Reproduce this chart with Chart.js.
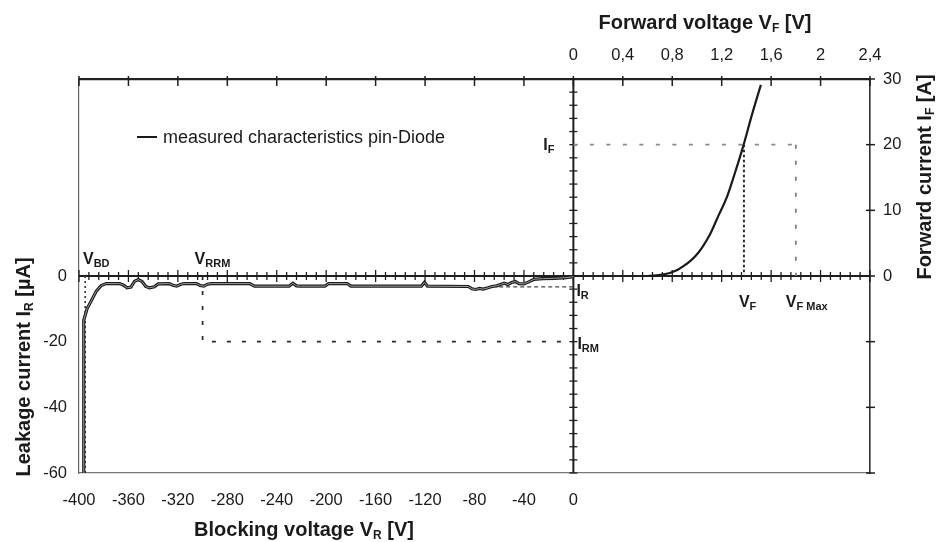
<!DOCTYPE html>
<html>
<head>
<meta charset="utf-8">
<script src="https://cdn.jsdelivr.net/npm/chart.js@4.4.1/dist/chart.umd.min.js"></script>
<style>
html,body{margin:0;padding:0;background:#fff;overflow:hidden}
#wrap{position:relative;width:937px;height:542px}
</style>
</head>
<body>
<div id="wrap"><canvas id="c"></canvas></div>
<script>
// ---------- data ----------
// Reverse (blocking) characteristic: blocking voltage [V] vs leakage current [µA]
const reverseVoltage = [-396.5,-396.3,-396.0,-393.5,-390,-386,-382,-378,-367,-364,-361,-358,-355,-352,-349,-346,-343,-339,-336,-327,-324,-321,-318,-315,-305,-302,-299,-296,-293,-262,-258,-230,-227,-224,-221,-201,-198,-183,-180,-123,-120.5,-118,-85,-82,-79,-76,-73,-69,-66,-62,-59,-56,-53,-50,-47,-44,-40,-36,-32,-25,-15,-6,0];
const reverseCurrent = [-60,-30,-13.5,-10,-7.5,-4.6,-2.9,-2.3,-2.3,-2.8,-3.6,-3.4,-1.6,-1.1,-1.7,-3.2,-3.6,-3.3,-2.4,-2.3,-2.8,-3.1,-2.6,-2.3,-2.3,-2.9,-3.1,-2.5,-2.3,-2.3,-3.1,-3.1,-2.2,-3.0,-3.1,-3.1,-2.3,-2.3,-3.1,-3.1,-1.9,-3.1,-3.2,-3.9,-4.1,-3.8,-4.0,-3.6,-3.2,-3.0,-2.6,-2.2,-2.6,-2.0,-1.7,-2.3,-2.4,-1.8,-1.0,-0.8,-0.7,-0.5,-0.2];
// Forward characteristic: forward voltage [V] vs forward current [A]
const forwardVoltage = [0.60,0.65,0.72,0.78,0.84,0.89,0.94,0.99,1.04,1.107,1.174,1.242,1.309,1.376,1.444,1.517];
const forwardCurrent = [0,0.05,0.2,0.45,0.9,1.5,2.2,3.1,4.3,6.4,9.2,12.0,15.8,19.9,24.5,29.1];

// characteristic values marked in the diagram
const V_BD = -395;      // breakdown voltage [V]
const V_RRM = -300;     // max. repetitive reverse voltage [V]
const I_RM = -20;       // max. reverse current [µA]
const I_R = -3.3;       // reverse current [µA]
const I_R_START = -60;  // start of the I_R marker [V]
const V_F = 1.38;       // forward voltage [V]
const V_FMAX = 1.8;     // max. forward voltage [V]
const I_F = 20;         // forward current [A]

// tick labels
const blockingTickLabels = ['-400','-360','-320','-280','-240','-200','-160','-120','-80','-40','0'];
const forwardVoltageTickLabels = ['0','0,4','0,8','1,2','1,6','2','2,4'];
const leakageTickLabels = ['-60','-40','-20','0'];
const forwardCurrentTickLabels = ['0','10','20','30'];

const LEGEND_LABEL = 'measured characteristics pin-Diode';
// ----------------------------------------------------

const FONT = '"Liberation Sans", Arial, Helvetica, sans-serif';
const pts = (xs, ys) => xs.map((v, i) => ({x: v, y: ys[i]}));

const reversePts = pts(reverseVoltage, reverseCurrent);
const forwardPts = pts(forwardVoltage, forwardCurrent);

function dashed(data, xAxisID, yAxisID, color, dash, width) {
  return {label: '_marker', data, xAxisID, yAxisID, borderColor: color, borderWidth: width,
          borderDash: dash, pointRadius: 0, tension: 0, fill: false, order: 5};
}

const datasets = [
  {label: LEGEND_LABEL, data: reversePts, xAxisID: 'x', yAxisID: 'y', borderColor: '#1a1a1a',
   borderWidth: 3.2, pointRadius: 0, tension: 0, fill: false, order: 1},
  {label: '_inner', data: reversePts, xAxisID: 'x', yAxisID: 'y', borderColor: '#9c9c9c',
   borderWidth: 1, pointRadius: 0, tension: 0, fill: false, order: 0},
  {label: LEGEND_LABEL, data: forwardPts, xAxisID: 'x2', yAxisID: 'y2', borderColor: '#1a1a1a',
   borderWidth: 2.2, pointRadius: 0, cubicInterpolationMode: 'monotone', fill: false, order: 1},
  dashed([{x: V_BD, y: 0}, {x: V_BD, y: -60}], 'x', 'y', '#333', [2, 3], 1.6),
  dashed([{x: V_RRM, y: 0}, {x: V_RRM, y: I_RM}, {x: 0, y: I_RM}], 'x', 'y', '#2a2a2a', [4, 11], 1.7),
  dashed([{x: I_R_START, y: I_R}, {x: 0, y: I_R}], 'x', 'y', '#444', [4, 3], 1.3),
  dashed([{x: 0, y: I_F}, {x: V_FMAX, y: I_F}], 'x2', 'y2', '#8a8a8a', [4, 12.5], 1.7),
  dashed([{x: V_F, y: I_F}, {x: V_F, y: 0}], 'x2', 'y2', '#2a2a2a', [2.5, 2.5], 2),
  dashed([{x: V_FMAX, y: I_F}, {x: V_FMAX, y: 0}], 'x2', 'y2', '#7a7a7a', [4, 12], 1.7)
];

const tickFont = {family: FONT, size: 16.5};
const tickColor = '#1a1a1a';

// draw text made of parts, some of them subscript
function richText(ctx, parts, x, y, o) {
  const mainF = o.bold ? 'bold ' + o.size + 'px ' + FONT : o.size + 'px ' + FONT;
  const subF = (o.subBold === false ? '' : 'bold ') + o.subSize + 'px ' + FONT;
  let w = 0;
  const ws = parts.map(p => { ctx.font = p[1] ? subF : mainF; const m = ctx.measureText(p[0]).width; w += m; return m; });
  ctx.save();
  ctx.translate(x, y);
  if (o.rotate) ctx.rotate(o.rotate);
  ctx.textBaseline = 'alphabetic';
  ctx.textAlign = 'left';
  ctx.fillStyle = o.color || '#1a1a1a';
  let cx = o.align === 'center' ? -w / 2 : (o.align === 'right' ? -w : 0);
  parts.forEach((p, i) => {
    ctx.font = p[1] ? subF : mainF;
    ctx.fillText(p[0], cx, p[1] ? o.subDy : 0);
    cx += ws[i];
  });
  ctx.restore();
}

function seg(ctx, x1, y1, x2, y2) {
  ctx.beginPath(); ctx.moveTo(x1, y1); ctx.lineTo(x2, y2); ctx.stroke();
}

const decor = {
  id: 'decor',
  beforeDatasetsDraw(chart) {
    const {ctx, chartArea: a, scales: {x, x2, y, y2}} = chart;
    const X0 = x.getPixelForValue(0), Y0 = y.getPixelForValue(0);
    ctx.save();
    ctx.strokeStyle = '#1e1e1e';
    ctx.lineWidth = 2;
    seg(ctx, a.left, Y0, a.right, Y0);
    seg(ctx, X0, a.top, X0, a.bottom);
    ctx.lineWidth = 1.3;
    // minor/major ticks on the horizontal zero axis
    for (let k = 0; k <= 80; k++) {
      const px = x2.getPixelForValue(-4 + k * 0.08);
      const h = k % 5 === 0 ? 6 : 4;
      seg(ctx, px, Y0 - h, px, Y0 + h);
    }
    // ticks on the vertical zero axis
    for (let k = -15; k <= 15; k++) {
      const py = y2.getPixelForValue(2 * k);
      seg(ctx, X0 - 4, py, X0 + 4, py);
    }
    // ticks on top frame
    ctx.lineWidth = 1.5;
    for (let k = 0; k <= 16; k++) {
      const px = x2.getPixelForValue(-4 + 0.4 * k);
      seg(ctx, px, a.top - 3, px, a.top + 7);
    }
    // ticks on right frame
    for (let k = -3; k <= 3; k++) {
      const py = y2.getPixelForValue(10 * k);
      seg(ctx, a.right - 4, py, a.right + 5, py);
    }
    ctx.restore();
  },
  afterDraw(chart) {
    const {ctx, chartArea: a, scales: {x, x2, y, y2}} = chart;
    const X0 = x.getPixelForValue(0), Y0 = y.getPixelForValue(0);
    // axis titles
    const T = {bold: true, size: 20, subSize: 12, subDy: 3};
    richText(ctx, [['Forward voltage V', 0], ['F', 1], [' [V]', 0]], 705, 29, Object.assign({align: 'center'}, T));
    richText(ctx, [['Blocking voltage V', 0], ['R', 1], [' [V]', 0]], 304, 536, Object.assign({align: 'center'}, T));
    richText(ctx, [['Leakage current I', 0], ['R', 1], [' [µA]', 0]], 30, 367, Object.assign({align: 'center', rotate: -Math.PI / 2}, T));
    richText(ctx, [['Forward current I', 0], ['F', 1], [' [A]', 0]], 931, 177, Object.assign({align: 'center', rotate: -Math.PI / 2}, T));
    // marker labels
    const L = {bold: true, size: 16, subSize: 11, subDy: 3};
    richText(ctx, [['V', 0], ['BD', 1]], x.getPixelForValue(-400) + 4, Y0 - 12, L);
    richText(ctx, [['V', 0], ['RRM', 1]], x.getPixelForValue(V_RRM) - 8, Y0 - 12, L);
    richText(ctx, [['I', 0], ['F', 1]], X0 - 19, y2.getPixelForValue(I_F) + 5, Object.assign({align: 'right'}, L));
    richText(ctx, [['I', 0], ['R', 1]], X0 + 3, y.getPixelForValue(I_R) + 9, L);
    richText(ctx, [['I', 0], ['RM', 1]], X0 + 4, y.getPixelForValue(I_RM) + 7, L);
    richText(ctx, [['V', 0], ['F', 1]], x2.getPixelForValue(V_F) - 5, Y0 + 31, L);
    richText(ctx, [['V', 0], ['F Max', 1]], x2.getPixelForValue(V_FMAX) - 10, Y0 + 31, L);
    // legend
    const lx = a.left + 58, ly = a.top + 58;
    ctx.save();
    ctx.strokeStyle = '#1a1a1a'; ctx.lineWidth = 2;
    seg(ctx, lx, ly, lx + 20, ly);
    ctx.fillStyle = '#1a1a1a';
    ctx.font = '18px ' + FONT;
    ctx.textBaseline = 'middle';
    ctx.fillText(chart.data.datasets[0].label, lx + 26, ly + 1);
    ctx.restore();
  }
};

new Chart(document.getElementById('c'), {
  type: 'line',
  data: {datasets},
  plugins: [decor],
  options: {
    responsive: true,
    maintainAspectRatio: false,
    animation: false,
    layout: {padding: 0},
    plugins: {legend: {display: false}, tooltip: {enabled: false}, title: {display: false}},
    scales: {
      x: {
        type: 'linear', position: 'bottom', min: -400, max: 240,
        grid: {display: false, drawTicks: false},
        border: {display: true, color: '#777', width: 1.2},
        ticks: {stepSize: 40, autoSkip: false, maxRotation: 0, font: tickFont, color: tickColor, padding: 18,
          callback: v => v <= 0 ? blockingTickLabels[Math.round((v + 400) / 40)] : ''},
        afterFit: s => { s.height = 69; }
      },
      x2: {
        type: 'linear', position: 'top', min: -4, max: 2.4,
        grid: {display: false, drawTicks: false},
        border: {display: true, color: '#222', width: 2.2},
        ticks: {stepSize: 0.4, autoSkip: false, maxRotation: 0, font: tickFont, color: tickColor, padding: 14,
          callback: v => v > -1e-6 ? forwardVoltageTickLabels[Math.round(v / 0.4)] : ''},
        afterFit: s => { s.height = 79; }
      },
      y: {
        type: 'linear', position: 'left', min: -60, max: 60,
        grid: {display: false, drawTicks: false},
        border: {display: true, color: '#666', width: 1.2},
        ticks: {stepSize: 20, autoSkip: false, font: tickFont, color: tickColor, padding: 12,
          callback: v => v <= 0 ? leakageTickLabels[Math.round((v + 60) / 20)] : ''},
        afterFit: s => { s.width = 79; }
      },
      y2: {
        type: 'linear', position: 'right', min: -30, max: 30,
        grid: {display: false, drawTicks: false},
        border: {display: true, color: '#333', width: 1.6},
        ticks: {stepSize: 10, autoSkip: false, font: tickFont, color: tickColor, padding: 13,
          callback: v => v >= 0 ? forwardCurrentTickLabels[Math.round(v / 10)] : ''},
        afterFit: s => { s.width = 67; }
      }
    }
  }
});
</script>
</body>
</html>
